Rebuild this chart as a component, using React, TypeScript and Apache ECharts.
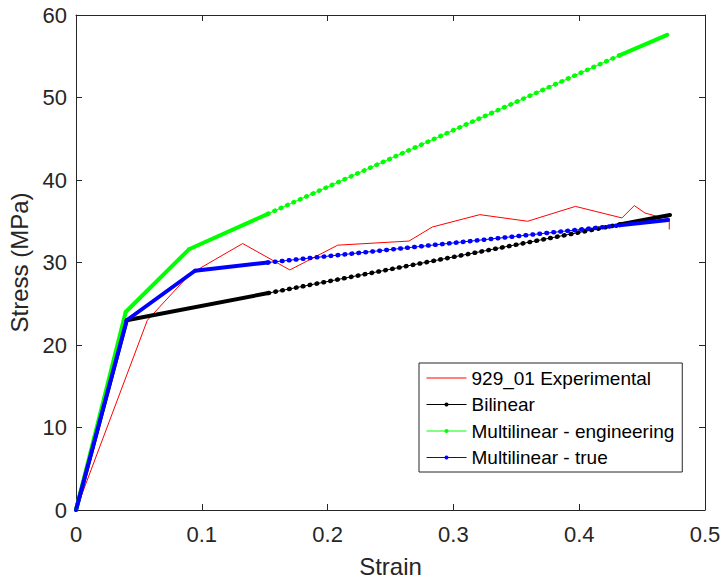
import React, { useEffect, useRef } from "react";
import * as echarts from "echarts";

// ---- data ----
const expStrain = [0, 0.0567, 0.0906, 0.1325, 0.170, 0.208, 0.2647, 0.2832, 0.321, 0.359, 0.397, 0.434, 0.4438, 0.4523, 0.4616, 0.4716, 0.4716];
const expStress = [0, 23.0, 28.6, 32.3, 29.1, 32.1, 32.6, 34.3, 35.8, 35.0, 36.8, 35.4, 36.9, 36.0, 35.6, 35.35, 34.0];

// vertices; plus points where dense marker sampling starts/ends
const bilinearStrain = [0, 0.0403, 0.153, 0.432, 0.4722];
const bilinearStress = [0, 23.0, 26.3, 34.6, 35.75];
const bilinearSparse = [2, 3]; // indices of sparse section

const engStrain = [0, 0.0395, 0.0898, 0.1526, 0.432, 0.470];
const engStress = [0, 24.0, 31.6, 35.9, 55.1, 57.6];
const engSparse = [3, 4];

const trueStrain = [0, 0.0403, 0.0946, 0.1526, 0.432, 0.4706];
const trueStress = [0, 23.0, 29.0, 30.0, 34.5, 35.15];
const trueSparse = [3, 4];

const xTicks = [0, 0.1, 0.2, 0.3, 0.4, 0.5];
const yTicks = [0, 10, 20, 30, 40, 50, 60];

const names = ["929_01 Experimental", "Bilinear", "Multilinear - engineering", "Multilinear - true"];

const FONT = "'Liberation Sans', Arial, Helvetica, sans-serif";
const AX = "#262626";

function zip(xs: number[], ys: number[]) {
  return xs.map((x, i) => [x, ys[i]]);
}

function curve(name: string, color: string, xs: number[], ys: number[], sparse: number[]) {
  const pts = zip(xs, ys);
  const [s0, s1] = sparse;
  const base = {
    name,
    type: "line",
    data: pts,
    symbol: "circle",
    symbolSize: 4,
    showSymbol: true,
    itemStyle: { color },
    lineStyle: { color, width: 1 },
    z: 3,
  };
  const denseA = {
    name: name + "_a",
    type: "line",
    data: pts.slice(0, s0 + 1),
    symbol: "none",
    lineStyle: { color, width: 4 },
    z: 3,
    silent: true,
  };
  const dots = {
    name: name + "_d",
    type: "line",
    data: pts.slice(s0, s1 + 1),
    symbol: "none",
    lineStyle: { color, width: 4.5, type: [0.6, 6.4], cap: "round" },
    z: 3,
    silent: true,
  };
  const denseB = {
    name: name + "_b",
    type: "line",
    data: pts.slice(s1),
    symbol: "none",
    lineStyle: { color, width: 4 },
    z: 3,
    silent: true,
  };
  return [base, denseA, dots, denseB];
}

export default function App() {
  const ref = useRef<HTMLDivElement>(null);
  useEffect(() => {
    if (!ref.current) return;
    const chart = echarts.init(ref.current, null, { renderer: "svg" });
    const axisCommon = {
      axisLine: { show: true, onZero: false, lineStyle: { color: AX, width: 1 } },
      axisTick: { show: true, inside: true, length: 6, lineStyle: { color: AX, width: 1 } },
      splitLine: { show: false },
    };
    chart.setOption({
      animation: false,
      backgroundColor: "#ffffff",
      grid: { left: 76, top: 15, width: 629, height: 495, containLabel: false, outerBoundsMode: "none" },
      legend: {
        data: [
          { name: names[0], itemStyle: { opacity: 0 } },
          { name: names[1] },
          { name: names[2] },
          { name: names[3] },
        ],
        orient: "vertical",
        left: 419,
        top: 363,
        padding: [5.5, 8, 5, 7],
        itemGap: 7.5,
        itemWidth: 40,
        itemHeight: 5,
        borderColor: AX,
        borderWidth: 1,
        backgroundColor: "#ffffff",
        lineStyle: { width: 1 },
        textStyle: { fontFamily: FONT, fontSize: 19, color: "#000", lineHeight: 19, padding: [0, 0, 0, 0] },
        selectedMode: false,
      },
      xAxis: [
        {
          type: "value",
          min: 0,
          max: 0.5,
          interval: 0.1,
          position: "bottom",
          name: "Strain",
          nameLocation: "middle",
          nameGap: 44,
          nameTextStyle: { fontFamily: FONT, fontSize: 24, color: AX },
          axisLabel: {
            fontFamily: FONT,
            fontSize: 22,
            color: AX,
            margin: 13,
            formatter: (v: number) => String(xTicks.find((t) => Math.abs(t - v) < 1e-9) ?? v),
          },
          ...axisCommon,
        },
        {
          type: "value",
          min: 0,
          max: 0.5,
          interval: 0.1,
          position: "top",
          axisLabel: { show: false },
          ...axisCommon,
        },
      ],
      yAxis: [
        {
          type: "value",
          min: 0,
          max: 60,
          interval: 10,
          position: "left",
          name: "Stress (MPa)",
          nameLocation: "middle",
          nameGap: 38,
          nameTextStyle: { fontFamily: FONT, fontSize: 24, color: AX },
          axisLabel: {
            fontFamily: FONT,
            fontSize: 22,
            color: AX,
            margin: 9,
            formatter: (v: number) => String(yTicks.find((t) => Math.abs(t - v) < 1e-9) ?? v),
          },
          ...axisCommon,
        },
        {
          type: "value",
          min: 0,
          max: 60,
          interval: 10,
          position: "right",
          axisLabel: { show: false },
          ...axisCommon,
        },
      ],
      series: [
        {
          name: names[0],
          type: "line",
          data: zip(expStrain, expStress),
          symbol: "none",
          itemStyle: { color: "#ff0000" },
          lineStyle: { color: "#ff0000", width: 1 },
          z: 2,
        },
        ...curve(names[1], "#000000", bilinearStrain, bilinearStress, bilinearSparse),
        ...curve(names[2], "#00ff00", engStrain, engStress, engSparse),
        ...curve(names[3], "#0000ff", trueStrain, trueStress, trueSparse),
      ],
    });
    return () => chart.dispose();
  }, []);
  return (
    <div
      ref={ref}
      style={{ position: "fixed", left: 0, top: 0, width: 723, height: 578, background: "#fff" }}
    />
  );
}
